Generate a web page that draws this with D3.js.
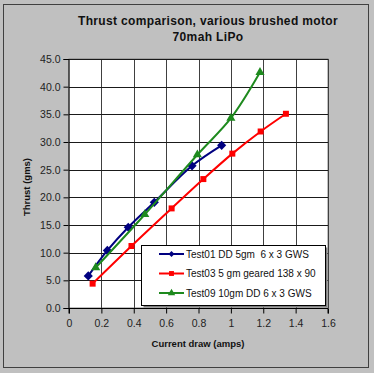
<!DOCTYPE html>
<html>
<head>
<meta charset="utf-8">
<script src="https://cdn.jsdelivr.net/npm/d3@7"></script>
<style>
  body { margin: 0; background: #c0c0c0; }
  text { font-family: "Liberation Sans", Arial, sans-serif; white-space: pre; }
</style>
</head>
<body>
<div id="viz_div"></div>
<script>
// Thrust vs current draw, three motor tests
var test01_amps = [0.119, 0.237, 0.366, 0.527, 0.76, 0.943];
var test01_gms  = [5.8, 10.4, 14.6, 19.1, 25.7, 29.4];

var test03_amps = [0.146, 0.386, 0.634, 0.83, 1.009, 1.184, 1.34];
var test03_gms  = [4.4, 11.2, 18.0, 23.3, 27.9, 31.9, 35.1];

var test09_amps = [0.165, 0.468, 0.793, 1.0, 1.18];
var test09_gms  = [7.3, 16.9, 27.7, 34.3, 42.6];

var series_names  = ["Test01 DD 5gm  6 x 3 GWS", "Test03 5 gm geared 138 x 90", "Test09 10gm DD 6 x 3 GWS"];
var series_colors = ["#000080", "#ff0000", "#1e8a1e"];
var series_marks  = [d3.symbolSquare, d3.symbolSquare, d3.symbolTriangle];
var series_rot    = [45, 0, 0];

var x_ticks = [0, 0.2, 0.4, 0.6, 0.8, 1, 1.2, 1.4, 1.6];
var y_ticks = [0, 5, 10, 15, 20, 25, 30, 35, 40, 45];

var w = 374, h = 373;
var plot_l = 69, plot_r = 328, plot_t = 59, plot_b = 308;

var x = d3.scaleLinear().domain([0, 1.6]).range([plot_l, plot_r]);
var y = d3.scaleLinear().domain([0, 45]).range([plot_b, plot_t]);

var svg = d3.select("#viz_div").append("svg")
	.attr("width", w)
	.attr("height", h);

// outer frame
svg.append("rect")
	.attr("x", 3.5).attr("y", 4.5)
	.attr("width", 365).attr("height", 363)
	.attr("fill", "#c0c0c0")
	.attr("stroke", "#404040");

// title
var title = svg.append("text")
	.attr("text-anchor", "middle")
	.attr("font-size", "12px")
	.attr("font-weight", "bold")
	.attr("letter-spacing", "0.35px")
	.attr("fill", "#111");
title.append("tspan").attr("x", 208).attr("y", 25).text("Thrust comparison, various brushed motor");
title.append("tspan").attr("x", 208).attr("y", 41).text("70mah LiPo");

// plot area
svg.append("rect")
	.attr("x", plot_l).attr("y", plot_t)
	.attr("width", plot_r - plot_l).attr("height", plot_b - plot_t)
	.attr("fill", "#fff")
	.attr("stroke", "#808080");

// grid
svg.append("g").selectAll("line")
	.data(x_ticks.slice(1))
	.enter().append("line")
	.attr("x1", function(d) { return Math.round(x(d)) + 0.5; })
	.attr("x2", function(d) { return Math.round(x(d)) + 0.5; })
	.attr("y1", plot_t).attr("y2", plot_b)
	.attr("stroke", "#404040");

svg.append("g").selectAll("line")
	.data(y_ticks.slice(1))
	.enter().append("line")
	.attr("y1", function(d) { return Math.round(y(d)) + 0.5; })
	.attr("y2", function(d) { return Math.round(y(d)) + 0.5; })
	.attr("x1", plot_l).attr("x2", plot_r)
	.attr("stroke", "#1a1a1a");

// axes
var x_axis = d3.axisBottom(x).tickValues(x_ticks).tickSize(5).tickPadding(6)
	.tickFormat(function(d) { return d === 0 || d === 1 ? d3.format("d")(d) : d3.format(".1f")(d); });
var y_axis = d3.axisLeft(y).tickValues(y_ticks).tickSize(5).tickPadding(3)
	.tickFormat(d3.format(".1f"));

var gx = svg.append("g").attr("transform", "translate(0," + (plot_b + 0.5) + ")").call(x_axis);
var gy = svg.append("g").attr("transform", "translate(" + (plot_l - 0.5) + ",0)").call(y_axis);

[gx, gy].forEach(function(g) {
	g.selectAll("path,line").attr("stroke", "#000");
	g.selectAll("text")
		.attr("fill", "#222")
		.attr("font-size", "10.5px")
		.attr("font-family", "'Liberation Sans', Arial, sans-serif");
});
gx.select(".domain").attr("d", "M" + plot_l + ",5V0H" + plot_r + "V5");

svg.append("text")
	.attr("x", 198).attr("y", 347)
	.attr("text-anchor", "middle")
	.attr("font-size", "9.5px")
	.attr("font-weight", "bold")
	.attr("fill", "#111")
	.text("Current draw (amps)");

svg.append("text")
	.attr("transform", "translate(30,187) rotate(-90)")
	.attr("text-anchor", "middle")
	.attr("font-size", "9.5px")
	.attr("font-weight", "bold")
	.attr("fill", "#111")
	.text("Thrust (gms)");

// series
var all_series = [
	[test01_amps, test01_gms],
	[test03_amps, test03_gms],
	[test09_amps, test09_gms]
];

var line = d3.line()
	.x(function(d) { return x(d[0]); })
	.y(function(d) { return y(d[1]); })
	.curve(d3.curveCatmullRom.alpha(0.5));

var mark_sizes = [42, 36, 36];

all_series.forEach(function(s, i) {
	var pts = d3.zip(s[0], s[1]);
	svg.append("path")
		.attr("d", line(pts))
		.attr("fill", "none")
		.attr("stroke", series_colors[i])
		.attr("stroke-width", 2);
	svg.append("g").selectAll("path")
		.data(pts)
		.enter().append("path")
		.attr("transform", function(d) { return "translate(" + x(d[0]) + "," + y(d[1]) + ") rotate(" + series_rot[i] + ")"; })
		.attr("d", d3.symbol().type(series_marks[i]).size(mark_sizes[i]))
		.attr("fill", series_colors[i]);
});

// legend
var lg = svg.append("g");
lg.append("rect")
	.attr("x", 143.5).attr("y", 247.5)
	.attr("width", 184).attr("height", 60)
	.attr("fill", "#808080");
lg.append("rect")
	.attr("x", 141.5).attr("y", 245.5)
	.attr("width", 184).attr("height", 60)
	.attr("fill", "#fff")
	.attr("stroke", "#000");

var rows = lg.selectAll("g.row")
	.data(series_names)
	.enter().append("g")
	.attr("class", "row")
	.attr("transform", function(d, i) { return "translate(0," + (254 + i * 19.5) + ")"; });

rows.append("line")
	.attr("x1", 159).attr("x2", 184)
	.attr("y1", 0).attr("y2", 0)
	.attr("stroke", function(d, i) { return series_colors[i]; })
	.attr("stroke-width", 2);
rows.append("path")
	.attr("transform", function(d, i) { return "translate(171.5,0) rotate(" + series_rot[i] + ")"; })
	.attr("d", function(d, i) { return d3.symbol().type(series_marks[i]).size(i === 0 ? 18 : 24)(); })
	.attr("fill", function(d, i) { return series_colors[i]; });
rows.append("text")
	.attr("x", 186).attr("y", 3.5)
	.attr("font-size", "10px")
	.attr("fill", "#111")
	.text(function(d) { return d; });
</script>
</body>
</html>
